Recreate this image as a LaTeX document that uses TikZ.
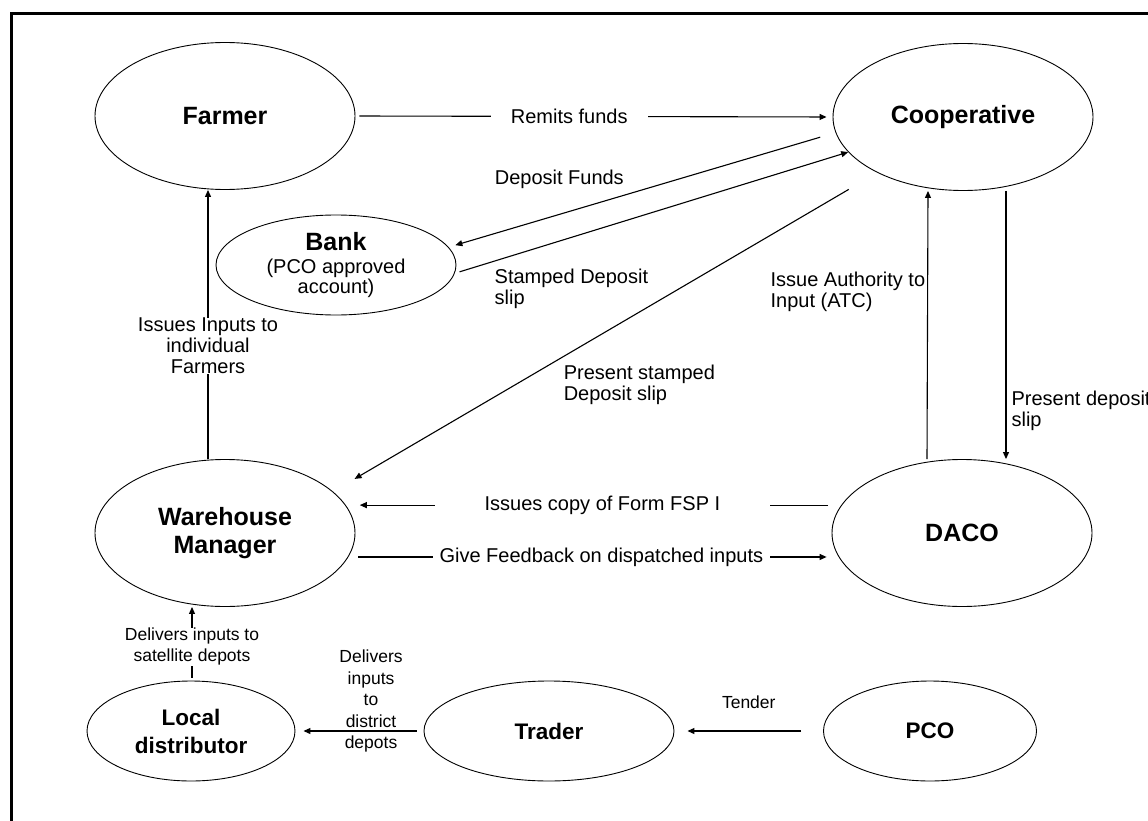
\documentclass[tikz,border=0pt]{standalone}
\usepackage{fontspec}
\setmainfont{Liberation Sans}
\usetikzlibrary{arrows.meta, shapes.geometric}
\tikzset{
  actor/.style={ellipse, draw, line width=0.9pt, inner sep=0pt, align=center, font=\bfseries\fontsize{25}{28.5}\selectfont},
  bigactor/.style={actor, minimum width=260pt, minimum height=147pt},
  smallactor/.style={actor, minimum height=100pt, font=\bfseries\fontsize{22.5}{28}\selectfont},
  flow/.style={-{Triangle[length=7pt, width=6pt]}, line width=1.1pt},
  lbl/.style={font=\fontsize{20}{21}\selectfont, inner sep=0pt},
  smalllbl/.style={font=\fontsize{17.5}{21.5}\selectfont, inner sep=0pt},
}

\begin{document}
\begin{tikzpicture}[x=1pt, y=-1pt]
  \useasboundingbox (0,0) rectangle (1148,821);
  \draw[line width=3pt] (11,14) rectangle (1200,900);

  % actors
  \node[bigactor] (farmer) at (225,116) {Farmer};
  \node[bigactor] (coop) at (963,117) {Cooperative};
  \node[actor, minimum width=240pt, minimum height=100pt, font=\fontsize{20}{20}\selectfont] (bank) at (336,265)
    {{\bfseries\fontsize{25}{25}\selectfont Bank}\\[3pt](PCO approved\\account)};
  \node[bigactor] (wm) at (225,533) {Warehouse\\Manager};
  \node[bigactor] (daco) at (962,533) {DACO};
  \node[smallactor, minimum width=208pt] (local) at (191,731) {Local\\distributor};
  \node[smallactor, minimum width=250pt] (trader) at (549,731) {Trader};
  \node[smallactor, minimum width=213pt] (pco) at (930,731) {PCO};

  % flows
  \draw[flow, shorten <=4pt, shorten >=6pt] (farmer.east) --
    node[lbl, fill=white, inner xsep=20pt, inner ysep=1pt, pos=.448] {Remits funds} (coop.west);
  \draw[flow, shorten <=16pt, shorten >=7pt] (coop.187) --
    node[lbl, pos=.714, yshift=35pt] {Deposit Funds} (bank.9);
  \draw[flow, shorten <=5pt] (bank.-4) --
    node[lbl, pos=.1, anchor=north west, align=left, yshift=-7pt] {Stamped Deposit\\slip} (coop.197);
  \draw[flow, shorten <=33pt, shorten >=25pt] (coop.213) --
    node[lbl, pos=.577, anchor=north west, align=left, yshift=-8pt] {Present stamped\\Deposit slip} (wm.21);
  \draw[flow] ([xshift=-35pt]daco.north) --
    node[lbl, pos=.70, anchor=north east, align=left, xshift=-2pt] {Issue Authority to\\Input (ATC)} ([xshift=-35pt]coop.south);
  \draw[flow] ([xshift=43pt]coop.south) --
    node[lbl, pos=.743, anchor=north west, align=left, xshift=5pt] {Present deposit\\slip} ([xshift=44pt]daco.north);
  \draw[flow] ([xshift=-17pt]wm.north) --
    node[lbl, fill=white, pos=.42, align=center] {Issues Inputs to\\individual\\Farmers} ([xshift=-17pt]farmer.south);
  \draw[flow, shorten <=13pt, shorten >=14pt] (daco.167) --
    node[lbl, fill=white, inner xsep=50pt, inner ysep=1pt, pos=.482] {Issues copy of Form FSP I} (wm.13);
  \draw[flow, shorten <=10pt, shorten >=12pt] (wm.-11) --
    node[lbl, fill=white, inner xsep=7pt, inner ysep=1pt, pos=.516] {Give Feedback on dispatched inputs} (daco.191);
  \draw[flow, shorten <=3pt] ([xshift=1pt]local.north) --
    node[smalllbl, fill=white, pos=.46, align=center] {Delivers inputs to\\satellite depots} ([xshift=-33pt]wm.south);
  \draw[flow, shorten <=7pt, shorten >=8pt] (trader.west) --
    node[smalllbl, pos=.41, yshift=30pt, align=center] {Delivers\\inputs\\to\\district\\depots} (local.east);
  \draw[flow, shorten <=22pt, shorten >=13pt] (pco.west) --
    node[smalllbl, midway, yshift=29pt] {Tender} (trader.east);
\end{tikzpicture}
\end{document}
